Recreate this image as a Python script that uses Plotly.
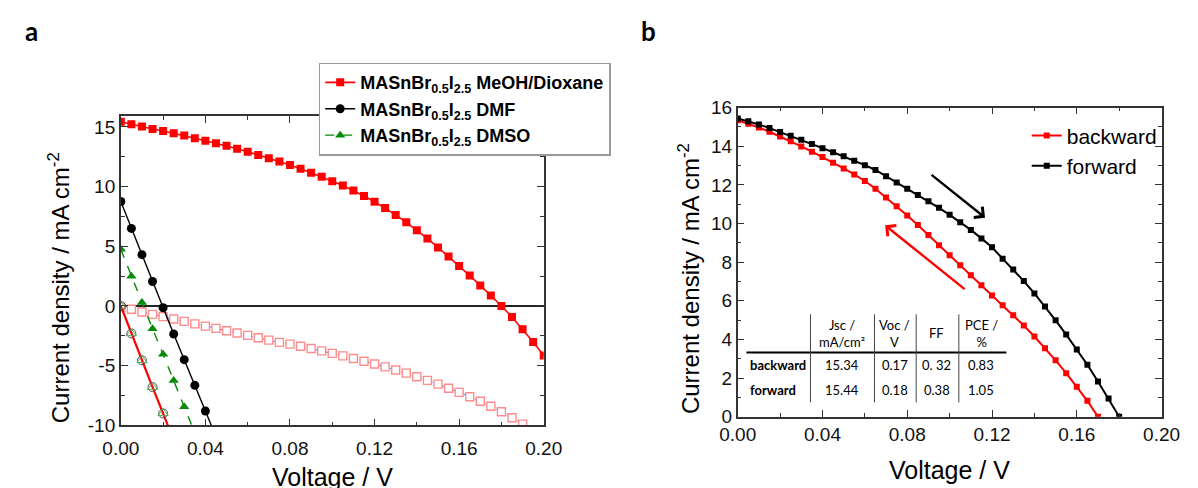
import plotly.graph_objects as go

W, H = 1198, 488

# Voltage sweep (V), 5 mV steps
v_sweep = [0.000, 0.005, 0.010, 0.015, 0.020, 0.025, 0.030, 0.035, 0.040, 0.045,
           0.050, 0.055, 0.060, 0.065, 0.070, 0.075, 0.080, 0.085, 0.090, 0.095,
           0.100, 0.105, 0.110, 0.115, 0.120, 0.125, 0.130, 0.135, 0.140, 0.145,
           0.150, 0.155, 0.160, 0.165, 0.170, 0.175, 0.180, 0.185, 0.190, 0.195,
           0.200]

# ---- panel a: MASnBr0.5I2.5 from different solvents (mA cm^-2) ----
j_meoh_light = [15.43, 15.22, 15.03, 14.83, 14.66, 14.48, 14.28, 14.06, 13.85, 13.64,
                13.42, 13.18, 12.93, 12.66, 12.38, 12.11, 11.81, 11.49, 11.16, 10.82,
                10.46, 10.09, 9.67, 9.22, 8.73, 8.20, 7.63, 7.01, 6.35, 5.65,
                4.91, 4.15, 3.36, 2.55, 1.72, 0.87, 0.00, -0.92, -1.95, -3.02,
                -4.15]
j_meoh_dark = [-0.10, -0.28, -0.50, -0.70, -0.89, -1.09, -1.29, -1.50, -1.69, -1.88,
               -2.07, -2.27, -2.46, -2.66, -2.86, -3.05, -3.20, -3.38, -3.56, -3.76,
               -3.97, -4.18, -4.40, -4.63, -4.86, -5.10, -5.36, -5.63, -5.93, -6.23,
               -6.55, -6.89, -7.24, -7.60, -7.98, -8.40, -8.86, -9.36, -9.90]
j_dmf_light = [8.75, 6.50, 4.30, 2.05, -0.15, -2.35, -4.50, -6.65, -8.80, -10.95]
j_dmso_light = [4.75, 2.50, 0.30, -1.90, -4.05, -6.25, -8.45, -10.65]
j_dmf_dmso_dark = [0.00, -2.30, -4.55, -6.80, -9.00, -11.25]

legend_a = ["<b>MASnBr<sub>0.5</sub>I<sub>2.5</sub> MeOH/Dioxane</b>",
            "<b>MASnBr<sub>0.5</sub>I<sub>2.5</sub> DMF</b>",
            "<b>MASnBr<sub>0.5</sub>I<sub>2.5</sub> DMSO</b>"]

# ---- panel b: scan direction of the MeOH/Dioxane device ----
j_backward = [15.34, 15.17, 14.97, 14.75, 14.51, 14.26, 13.99, 13.72, 13.44, 13.15,
              12.85, 12.54, 12.20, 11.80, 11.35, 10.90, 10.42, 9.92, 9.40, 8.88,
              8.36, 7.84, 7.32, 6.80, 6.28, 5.77, 5.25, 4.72, 4.15, 3.55,
              2.92, 2.25, 1.55, 0.82, 0.00]
j_forward = [15.44, 15.30, 15.13, 14.94, 14.74, 14.54, 14.34, 14.12, 13.90, 13.69,
             13.48, 13.25, 13.02, 12.77, 12.45, 12.12, 11.80, 11.48, 11.15, 10.81,
             10.45, 10.07, 9.67, 9.23, 8.77, 8.18, 7.62, 7.02, 6.38, 5.70,
             4.99, 4.25, 3.48, 2.69, 1.82, 0.94, 0.00]

# photovoltaic parameters table
table_header = ["Jsc /<br>mA/cm²", "Voc /<br>V", "FF", "PCE /<br>%"]
table_rows = ["backward", "forward"]
table_cells = [["15.34", "0.17", "0. 32", "0.83"],
               ["15.44", "0.18", "0.38", "1.05"]]

# axis ticks
xticks = [0.00, 0.04, 0.08, 0.12, 0.16, 0.20]
yticks_a = [-10, -5, 0, 5, 10, 15]
yticks_b = [0, 2, 4, 6, 8, 10, 12, 14, 16]

RED, BLACK, GREEN = "#ff0000", "#000000", "#078a07"
PALE_RED = "#ff8c8c"
ARIAL = "Liberation Sans, Arial, sans-serif"
CALIBRI = "Lato, Carlito, Calibri, sans-serif"


def px(x):
    return x / W


def py(y):
    return 1 - y / H


def label(text, x, y, size, family=ARIAL, color="black", **kw):
    return dict(text=text, x=px(x), y=py(y), xref="paper", yref="paper",
                xanchor=kw.pop("xanchor", "center"), yanchor=kw.pop("yanchor", "middle"),
                showarrow=False, font=dict(family=family, size=size, color=color), **kw)


fig = go.Figure()

# panel a traces
fig.add_trace(go.Scatter(x=v_sweep[:len(j_meoh_dark)], y=j_meoh_dark, xaxis="x", yaxis="y",
                         mode="lines+markers", showlegend=False,
                         line=dict(color="#4a66ff", width=1, dash="dot"),
                         marker=dict(symbol="square", size=8, color="white",
                                     line=dict(width=1.4, color=PALE_RED))))
fig.add_trace(go.Scatter(x=v_sweep[:len(j_dmf_dmso_dark)], y=j_dmf_dmso_dark, xaxis="x", yaxis="y",
                         mode="lines+markers", showlegend=False,
                         line=dict(color=RED, width=2.2),
                         marker=dict(symbol="circle-open", size=9, color="#555",
                                     line=dict(width=1))))
fig.add_trace(go.Scatter(x=v_sweep[:len(j_dmf_dmso_dark)], y=j_dmf_dmso_dark, xaxis="x", yaxis="y",
                         mode="markers", showlegend=False,
                         marker=dict(symbol="triangle-up-open", size=9, color="#5aa85a",
                                     line=dict(width=1))))
fig.add_trace(go.Scatter(x=v_sweep, y=j_meoh_light, xaxis="x", yaxis="y",
                         mode="lines+markers", name=legend_a[0], legend="legend",
                         line=dict(color=RED, width=1.6),
                         marker=dict(symbol="square", size=8, color=RED)))
fig.add_trace(go.Scatter(x=v_sweep[:len(j_dmf_light)], y=j_dmf_light, xaxis="x", yaxis="y",
                         mode="lines+markers", name=legend_a[1], legend="legend",
                         line=dict(color=BLACK, width=1.4),
                         marker=dict(symbol="circle", size=9, color=BLACK)))
fig.add_trace(go.Scatter(x=v_sweep[:len(j_dmso_light)], y=j_dmso_light, xaxis="x", yaxis="y",
                         mode="lines+markers", name=legend_a[2], legend="legend",
                         line=dict(color=GREEN, width=1.4, dash="dash"),
                         marker=dict(symbol="triangle-up", size=9, color=GREEN)))

# panel b traces
fig.add_trace(go.Scatter(x=v_sweep[:len(j_backward)], y=j_backward, xaxis="x2", yaxis="y2",
                         mode="lines+markers", name="backward", legend="legend2",
                         line=dict(color=RED, width=2),
                         marker=dict(symbol="square", size=6, color=RED)))
fig.add_trace(go.Scatter(x=v_sweep[:len(j_forward)], y=j_forward, xaxis="x2", yaxis="y2",
                         mode="lines+markers", name="forward", legend="legend2",
                         line=dict(color=BLACK, width=2),
                         marker=dict(symbol="square", size=6, color=BLACK)))

axis_style = dict(showline=True, linecolor="#333", linewidth=1.5, mirror="ticks",
                  ticks="inside", ticklen=7, tickwidth=1.4, tickcolor="#333",
                  showgrid=False,
                  tickfont=dict(family=ARIAL, size=19, color="#111"))
minor_style = dict(ticks="inside", ticklen=4, tickcolor="#333", tick0=0)

fig.update_layout(
    width=W, height=H, margin=dict(l=0, r=0, t=0, b=0),
    paper_bgcolor="white", plot_bgcolor="white",
    xaxis=dict(domain=[px(106), px(542)], range=[0, 0.2], anchor="y",
               tickvals=xticks, tickformat=".2f", zeroline=False, ticklabelstandoff=5,
               minor=dict(dtick=0.02, **minor_style), **axis_style),
    yaxis=dict(domain=[py(434), py(111)], range=[-10, 15.9], anchor="x",
               tickvals=yticks_a, ticktext=[str(t) for t in yticks_a],
               minor=dict(dtick=2.5, **minor_style), **axis_style,
               zeroline=True, zerolinecolor="#222", zerolinewidth=1.5),
    xaxis2=dict(domain=[px(742), px(1179)], range=[0, 0.2], anchor="y2",
                tickvals=xticks, tickformat=".2f", zeroline=False,
                minor=dict(dtick=0.02, **minor_style), **axis_style),
    yaxis2=dict(domain=[py(425), py(102)], range=[0, 16], anchor="x2",
                tickvals=yticks_b, zeroline=False,
                minor=dict(dtick=1, **minor_style), **axis_style),
    legend=dict(x=px(310), y=py(55), xanchor="left", yanchor="top",
                bgcolor="white", bordercolor="#9a9a9a", borderwidth=1.5,
                font=dict(family=ARIAL, size=18, color="black"),
                tracegroupgap=0),
    legend2=dict(x=px(1040), y=py(110), xanchor="left", yanchor="top",
                 bgcolor="rgba(0,0,0,0)", borderwidth=0,
                 font=dict(family=ARIAL, size=21, color="black")),
)

ann = []
# panel labels
ann.append(label("<b>a</b>", 14, 22, 26, CALIBRI))
ann.append(label("<b>b</b>", 650, 22, 26, CALIBRI))
# axis titles
for xc, yc in [(42, 290), (692, 281)]:
    ann.append(label("Current density / mA cm<sup>-2</sup>", xc, yc, 24, textangle=-90))
ann.append(label("Voltage / V", (106 + 542) / 2, 488, 25))
ann.append(label("Voltage / V", (742 + 1179) / 2, 481, 25))

# scan-direction arrows
ann.append(dict(text="", x=px(997), y=py(217), xref="paper", yref="paper",
                ax=-55, ay=-44, showarrow=True, arrowhead=4, arrowsize=1.1,
                arrowwidth=2.4, arrowcolor="black"))
ann.append(dict(text="", x=px(894), y=py(225), xref="paper", yref="paper",
                ax=81, ay=65, showarrow=True, arrowhead=4, arrowsize=1.1,
                arrowwidth=2.4, arrowcolor=RED))

# table
col_x = [850, 904, 947, 993]
for cx, head in zip(col_x, table_header):
    ann.append(label(head, cx, 338, 13, CALIBRI))
for ry, name, cells in zip([371, 397], table_rows, table_cells):
    ann.append(label("<b>" + name + "</b>", 753, ry, 13, CALIBRI, xanchor="left"))
    for cx, val in zip(col_x, cells):
        ann.append(label(val, cx, ry, 13, CALIBRI))

shapes = [dict(type="line", xref="paper", yref="paper", x0=px(751), x1=px(1019),
               y0=py(358), y1=py(358), line=dict(color="black", width=2))]
for vx in [817, 883, 926, 970]:
    shapes.append(dict(type="line", xref="paper", yref="paper", x0=px(vx), x1=px(vx),
                       y0=py(318), y1=py(410), line=dict(color="#444", width=1)))

fig.update_layout(annotations=ann, shapes=shapes)

fig.write_html("out.html")
